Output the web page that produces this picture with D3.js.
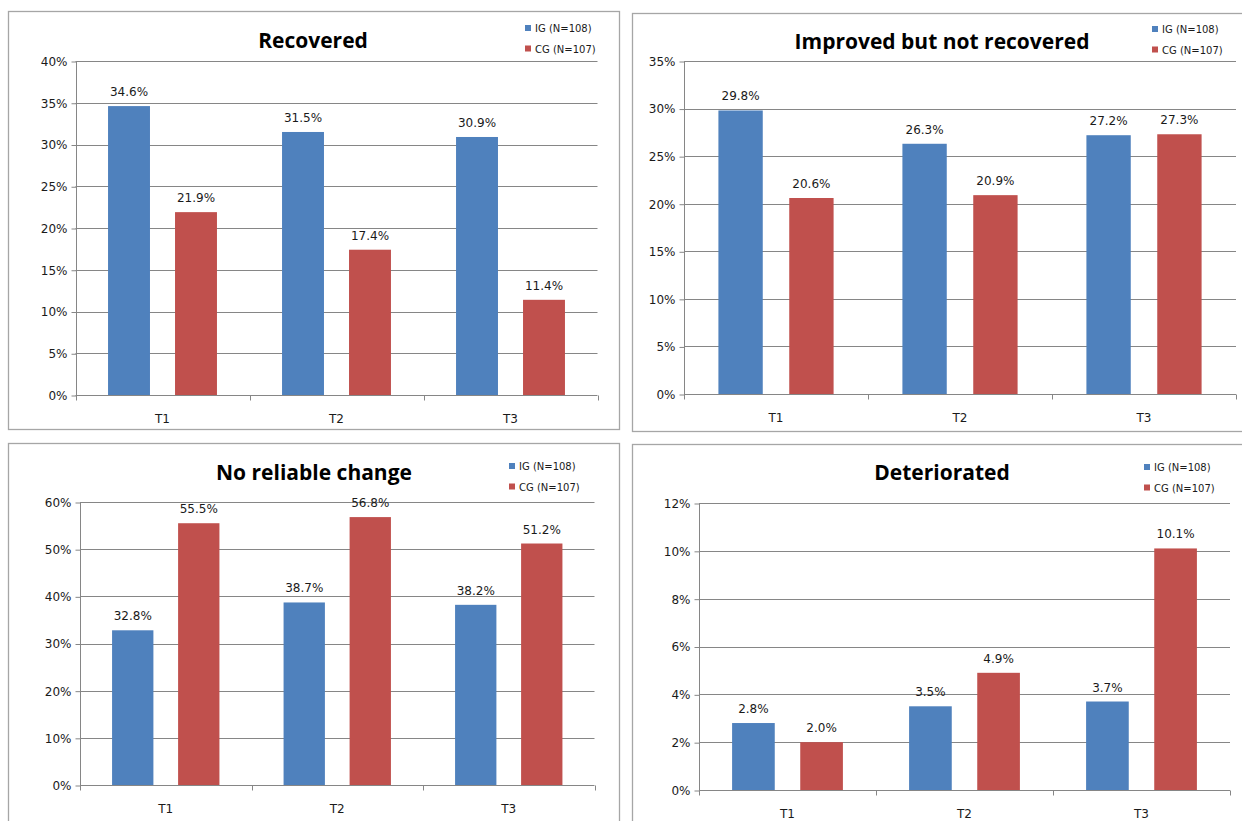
<!DOCTYPE html>
<html>
<head>
<meta charset="utf-8">
<script src="https://cdn.jsdelivr.net/npm/d3@7"></script>
<style>
  html, body { margin: 0; padding: 0; background: #fff; }
  svg { display: block; }
</style>
</head>
<body>
<svg id="chart" width="1242" height="821"></svg>
<script>
// ---- data ----
const categories = ["T1", "T2", "T3"];
const seriesNames = ["IG (N=108)", "CG (N=107)"];
const seriesColors = ["#4F81BD", "#C0504D"];

const recoveredIG = [34.6, 31.5, 30.9];
const recoveredCG = [21.9, 17.4, 11.4];
const improvedIG = [29.8, 26.3, 27.2];
const improvedCG = [20.6, 20.9, 27.3];
const noChangeIG = [32.8, 38.7, 38.2];
const noChangeCG = [55.5, 56.8, 51.2];
const deterioratedIG = [2.8, 3.5, 3.7];
const deterioratedCG = [2.0, 4.9, 10.1];

const recoveredTicks = [0, 5, 10, 15, 20, 25, 30, 35, 40];
const improvedTicks = [0, 5, 10, 15, 20, 25, 30, 35];
const noChangeTicks = [0, 10, 20, 30, 40, 50, 60];
const deterioratedTicks = [0, 2, 4, 6, 8, 10, 12];

const titles = ["Recovered", "Improved but not recovered", "No reliable change", "Deteriorated"];

// ---- layout ----
const panels = [
  { title: titles[0], ig: recoveredIG, cg: recoveredCG, ticks: recoveredTicks,
    box: [8, 11, 619, 429], x0: 75.5, catW: 174, yTop: 61, yBot: 395,
    titleX: 313, titleY: 48, legX: 525, legY: 25 },
  { title: titles[1], ig: improvedIG, cg: improvedCG, ticks: improvedTicks,
    box: [632, 13, 1250, 431], x0: 684, catW: 184, yTop: 61, yBot: 394,
    titleX: 942, titleY: 49, legX: 1152, legY: 26 },
  { title: titles[2], ig: noChangeIG, cg: noChangeCG, ticks: noChangeTicks,
    box: [8, 443, 619, 830], x0: 80, catW: 171.5, yTop: 502, yBot: 785,
    titleX: 314, titleY: 480, legX: 509, legY: 463 },
  { title: titles[3], ig: deterioratedIG, cg: deterioratedCG, ticks: deterioratedTicks,
    box: [632, 444, 1250, 830], x0: 699, catW: 177, yTop: 503, yBot: 790,
    titleX: 942, titleY: 480, legX: 1144, legY: 464 }
];

const svg = d3.select("#chart");
const smallFont = "DejaVu Sans, Verdana, sans-serif";
const gridColor = "#868686";

panels.forEach(p => {
  const g = svg.append("g");
  // panel border
  g.append("rect")
    .attr("x", p.box[0] + 0.5).attr("y", p.box[1] + 0.5)
    .attr("width", p.box[2] - p.box[0]).attr("height", p.box[3] - p.box[1])
    .attr("fill", "#fff").attr("stroke", "#a6a6a6").attr("stroke-width", 1.3);

  const plotW = p.catW * categories.length;
  const x = d3.scaleBand().domain(categories).range([p.x0, p.x0 + plotW]).paddingInner(0).paddingOuter(0);
  const bw = x.bandwidth();
  const xs = d3.scaleBand().domain(seriesNames).range([bw * 0.187, bw * 0.813]).paddingInner(0.374).paddingOuter(0);
  const yMax = p.ticks[p.ticks.length - 1];
  const y = d3.scaleLinear().domain([0, yMax]).range([p.yBot, p.yTop]);

  // gridlines
  g.append("g").selectAll("line").data(p.ticks.filter(t => t > 0)).join("line")
    .attr("x1", p.x0).attr("x2", p.x0 + plotW)
    .attr("y1", d => Math.round(y(d)) + 0.5).attr("y2", d => Math.round(y(d)) + 0.5)
    .attr("stroke", gridColor).attr("stroke-width", 1);

  // y axis
  const yAxis = d3.axisLeft(y).tickValues(p.ticks).tickSize(5).tickPadding(4).tickFormat(d => d + "%");
  const ya = g.append("g").attr("transform", `translate(${Math.round(p.x0) + 0.5},0.5)`).call(yAxis);
  ya.select(".domain").attr("stroke", gridColor).attr("d", `M0,${y(yMax)}V${y(0)}`);
  ya.selectAll(".tick line").attr("stroke", gridColor);
  ya.selectAll(".tick text").attr("font-family", smallFont).attr("font-size", 12).attr("fill", "#1a1a1a");

  // x axis
  const xa = g.append("g").attr("transform", `translate(0,${Math.round(p.yBot) + 0.5})`);
  xa.append("line").attr("x1", p.x0).attr("x2", p.x0 + plotW).attr("stroke", gridColor);
  const bounds = categories.map(c => x(c)).concat([p.x0 + plotW]);
  xa.selectAll("line.tk").data(bounds).join("line").attr("class", "tk")
    .attr("x1", d => Math.round(d) + 0.5).attr("x2", d => Math.round(d) + 0.5)
    .attr("y1", 0).attr("y2", 5).attr("stroke", gridColor);
  xa.selectAll("text").data(categories).join("text")
    .attr("x", d => x(d) + bw / 2).attr("y", 27)
    .attr("text-anchor", "middle").attr("font-family", smallFont).attr("font-size", 12)
    .attr("fill", "#1a1a1a").text(d => d);

  // bars
  const rows = categories.map((c, i) => ({ c, vals: [p.ig[i], p.cg[i]] }));
  const cg = g.append("g").selectAll("g").data(rows).join("g")
    .attr("transform", d => `translate(${x(d.c)},0)`);
  cg.selectAll("rect").data(d => d.vals.map((v, j) => ({ v, s: seriesNames[j], j }))).join("rect")
    .attr("x", d => xs(d.s)).attr("width", xs.bandwidth())
    .attr("y", d => y(d.v)).attr("height", d => y(0) - y(d.v))
    .attr("fill", d => seriesColors[d.j]);
  cg.selectAll("text").data(d => d.vals.map((v, j) => ({ v, s: seriesNames[j], j }))).join("text")
    .attr("x", d => xs(d.s) + xs.bandwidth() / 2).attr("y", d => y(d.v) - 10)
    .attr("text-anchor", "middle").attr("font-family", smallFont).attr("font-size", 12)
    .attr("fill", "#1a1a1a").text(d => d.v.toFixed(1) + "%");

  // title
  g.append("text").attr("x", p.titleX).attr("y", p.titleY).attr("text-anchor", "middle")
    .attr("font-family", "Open Sans, sans-serif").attr("font-weight", "bold").attr("font-size", 21)
    .attr("fill", "#000").text(p.title);

  // legend
  const lg = g.append("g").attr("transform", `translate(${p.legX},${p.legY})`);
  seriesNames.forEach((s, j) => {
    lg.append("rect").attr("x", 0).attr("y", j * 20.5).attr("width", 6).attr("height", 6).attr("fill", seriesColors[j]);
    lg.append("text").attr("x", 10).attr("y", j * 20.5 + 7).attr("font-family", smallFont)
      .attr("font-size", 10).attr("fill", "#1a1a1a").text(s);
  });
});
</script>
</body>
</html>
